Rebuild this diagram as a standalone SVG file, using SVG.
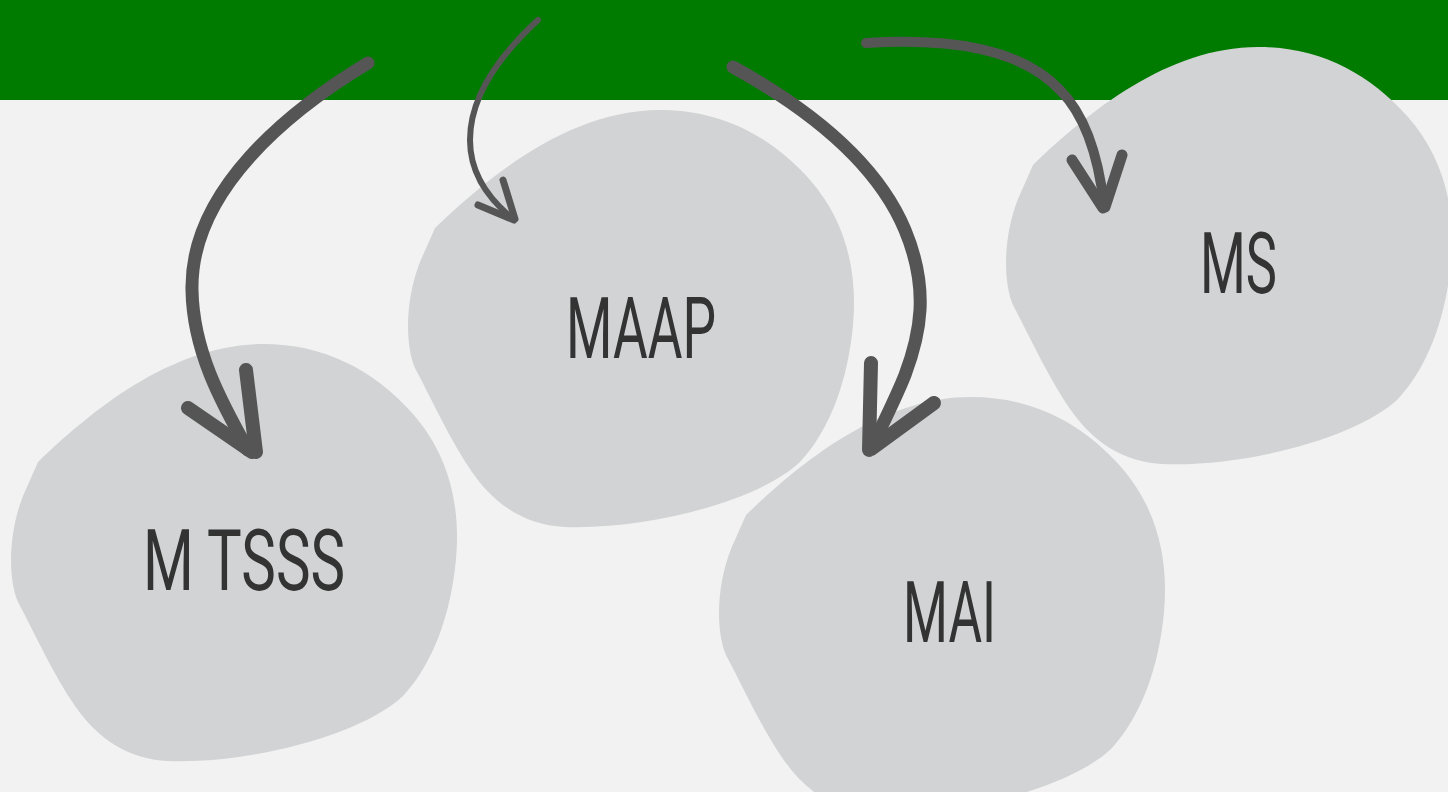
<svg xmlns="http://www.w3.org/2000/svg" xmlns:xlink="http://www.w3.org/1999/xlink" width="1448" height="792" viewBox="0 0 1448 792">
<style>
.blob{fill:#d1d3d4}
.lbl{font-family:Roboto,"Liberation Sans",sans-serif;font-weight:400;font-size:85px;fill:#333333}
.arr{fill:none;stroke:#555555;stroke-linecap:round;stroke-linejoin:round}
</style>
<defs>
<path id="blob" d="M 435 228 C 490 175 570 110 660 110 C 720 110 770 135 810 180 C 845 220 858 270 853 325 C 848 380 830 430 800 462 C 760 500 650 530 565 527 C 525 525 495 505 472 472 C 450 440 432 400 415 368 C 405 345 405 300 420 262 Z"/>
</defs>
<rect x="0" y="0" width="1448" height="792" fill="#f2f2f2"/>
<rect x="0" y="0" width="1448" height="100" fill="#007b00"/>
<g id="node-mtsss">
<use xlink:href="#blob" class="blob" transform="translate(-397,234)"/>
<text class="lbl" x="143" y="590" textLength="202" lengthAdjust="spacingAndGlyphs">M TSSS</text>
</g>
<g id="node-maap">
<use xlink:href="#blob" class="blob"/>
<text class="lbl" x="566" y="358" textLength="150" lengthAdjust="spacingAndGlyphs">MAAP</text>
</g>
<g id="node-mai">
<use xlink:href="#blob" class="blob" transform="translate(311,287)"/>
<text class="lbl" x="903" y="642" textLength="93" lengthAdjust="spacingAndGlyphs">MAI</text>
</g>
<g id="node-ms">
<use xlink:href="#blob" class="blob" transform="translate(598,-63)"/>
<text class="lbl" x="1200" y="293" textLength="77" lengthAdjust="spacingAndGlyphs">MS</text>
</g>
<g id="connectors">
<path class="arr" stroke-width="13" d="M 368 63 C 290 110 190 190 192 290 C 193 350 220 400 248 450"/>
<path class="arr" stroke-width="14" d="M 188 408 L 252 452 M 246 370 L 256 452"/>
<path class="arr" stroke-width="6" d="M 538 20 C 500 55 470 95 470 140 C 470 175 490 200 512 218"/>
<path class="arr" stroke-width="7" d="M 478 205 L 514 220 M 503 180 L 515 219"/>
<path class="arr" stroke-width="13" d="M 733 67 C 820 115 880 170 905 230 C 930 290 920 335 905 375 C 895 400 882 425 872 447"/>
<path class="arr" stroke-width="14" d="M 871 363 L 869 450 M 934 403 L 871 449"/>
<path class="arr" stroke-width="10" d="M 866 43 C 950 38 1020 48 1060 90 C 1090 120 1100 170 1104 205"/>
<path class="arr" stroke-width="11" d="M 1072 160 L 1103 208 M 1122 155 L 1105 207"/>
</g>
</svg>
